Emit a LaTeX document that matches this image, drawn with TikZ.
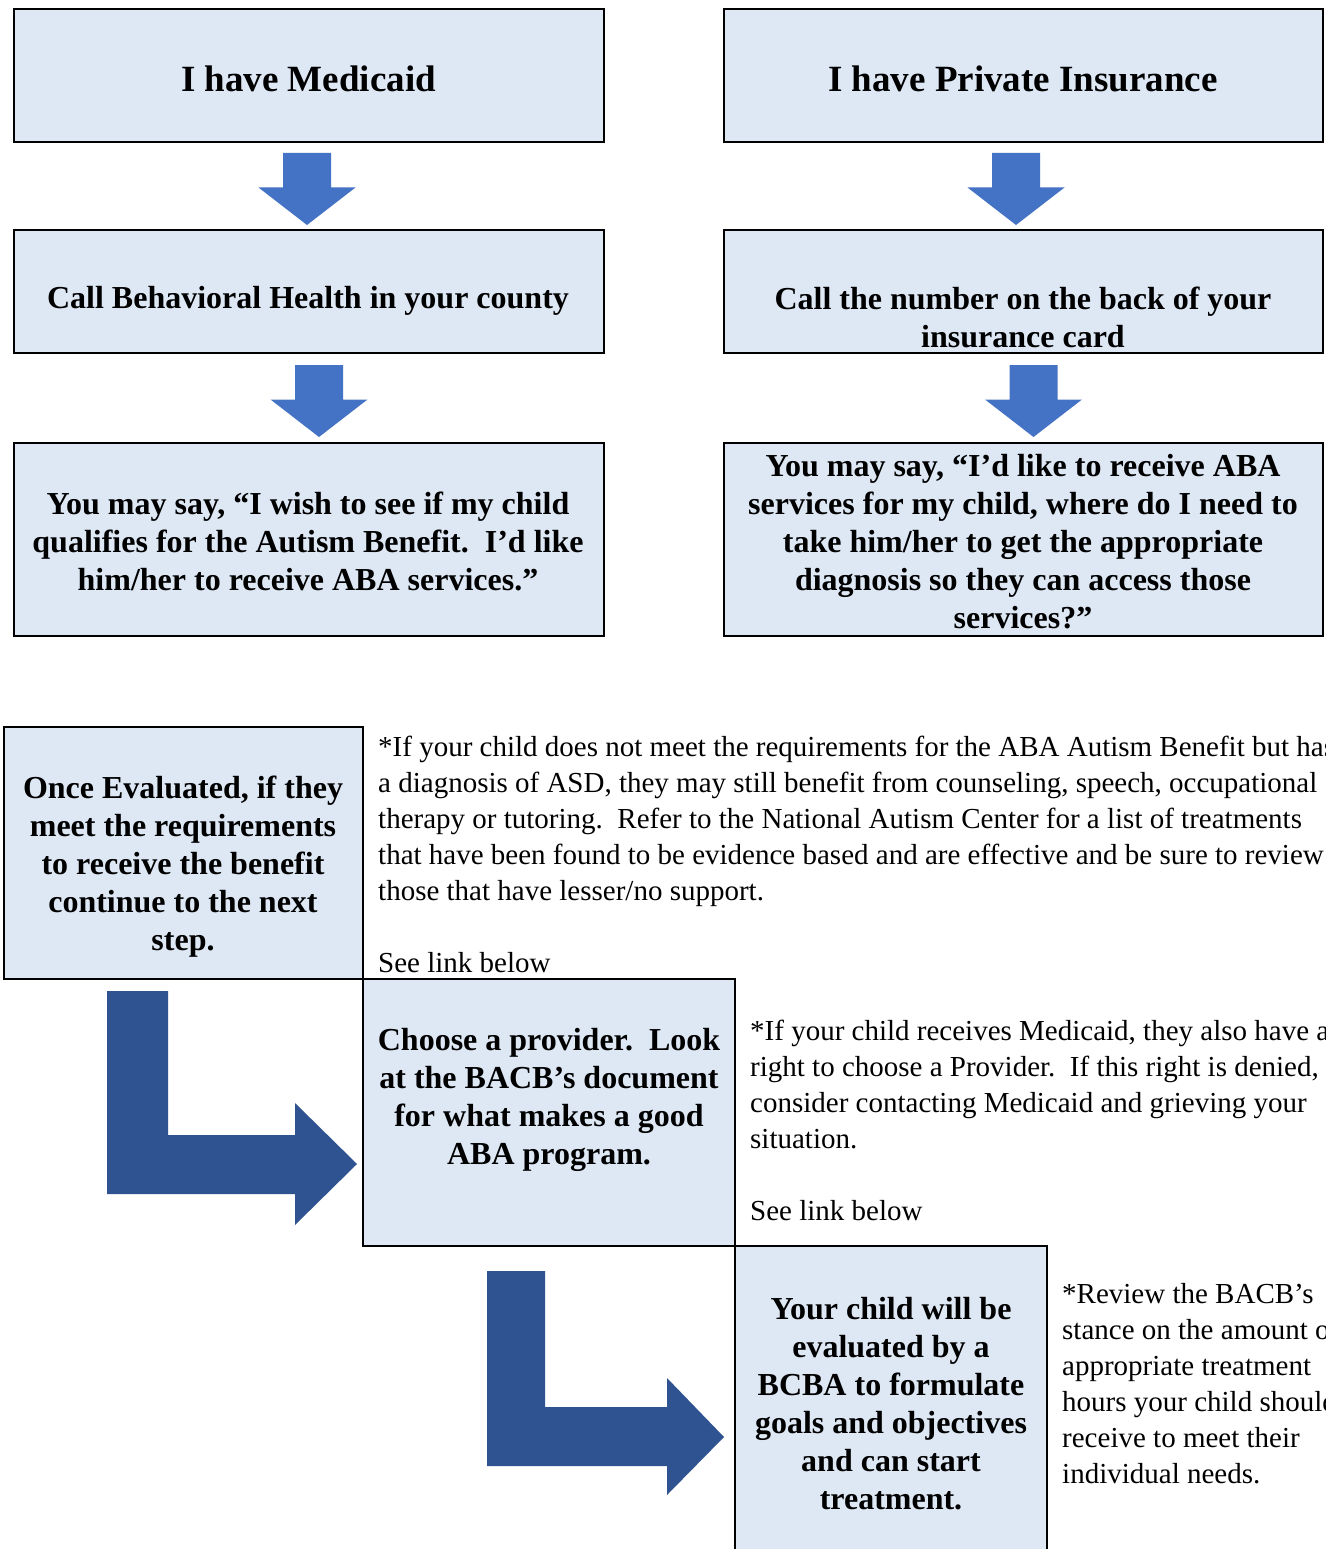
\documentclass[tikz,border=0pt]{standalone}
\usepackage{fontspec}
\setmainfont{Liberation Serif}
\definecolor{boxfill}{HTML}{DEE8F5}
\definecolor{arrowblue}{HTML}{4472C4}
\definecolor{darkarrow}{HTML}{2F5390}
\tikzset{
  box/.style={draw=black, line width=2.5pt, fill=boxfill, inner sep=0pt},
  boldtxt/.style={font=\fontsize{32}{38}\selectfont\bfseries, align=center, inner sep=0pt},
  titletxt/.style={font=\fontsize{37}{44}\selectfont\bfseries, inner sep=0pt},
  notetxt/.style={font=\fontsize{29}{36}\selectfont, align=left, inner sep=0pt, anchor=north west},
  darrow/.pic={\fill[arrowblue] (-24,0) -- (24,0) -- (24,34.5) -- (48.5,34.5) -- (0,72) -- (-48.5,34.5) -- (-24,34.5) -- cycle;}
}
\begin{document}
\begin{tikzpicture}[x=1pt,y=-1pt]
\useasboundingbox (0,0) rectangle (1325,1549);
\clip (0,0) rectangle (1325,1549);
\fill[white] (0,0) rectangle (1325,1549);

% top boxes
\node[box, minimum width=590pt, minimum height=133pt] (b1) at (309,75.5) {};
\node[box, minimum width=599pt, minimum height=133pt] (b2) at (1023.5,75.5) {};
\node[box, minimum width=590pt, minimum height=123pt] (b3) at (309,291.5) {};
\node[box, minimum width=599pt, minimum height=123pt] (b4) at (1023.5,291.5) {};
\node[box, minimum width=590pt, minimum height=193pt] (b5) at (309,539.5) {};
\node[box, minimum width=599pt, minimum height=193pt] (b6) at (1023.5,539.5) {};

\node[titletxt] (t1) at (308.5,79) {I have Medicaid};
\node[titletxt] (t2) at (1023,79) {I have Private Insurance};
\node[boldtxt] (t3) at (308,301) {Call Behavioral Health in your county};
\node[boldtxt] (t4) at (1023,317) {Call the number on the back of your\\insurance card};
\node[boldtxt] (t5) at (308,541) {You may say, “I wish to see if my child\\qualifies for the Autism Benefit.\ \ I’d like\\him/her to receive ABA services.”};
\node[boldtxt] (t6) at (1023,542) {You may say, “I’d like to receive ABA\\services for my child, where do I need to\\take him/her to get the appropriate\\diagnosis so they can access those\\services?”};

% down arrows
\pic at (307,153) {darrow};
\pic at (1016,153) {darrow};
\pic at (319,365) {darrow};
\pic at (1033.5,365) {darrow};

% bottom boxes
\node[box, minimum width=359pt, minimum height=252pt] (b7) at (183.5,853) {};
\node[box, minimum width=372pt, minimum height=267pt] (b8) at (549,1112.5) {};
\node[box, minimum width=312pt, minimum height=324pt] (b9) at (891,1408) {};

\node[boldtxt] (t7) at (183,867) {Once Evaluated, if they\\meet the requirements\\to receive the benefit\\continue to the next\\step.};
\node[boldtxt] (t8) at (549,1100) {Choose a provider.\ \ Look\\at the BACB’s document\\for what makes a good\\ABA program.};
\node[boldtxt] (t9) at (891,1404) {Your child will be\\evaluated by a\\BCBA to formulate\\goals and objectives\\and can start\\treatment.};

% notes
\node[notetxt] (n1) at (378,736) {*If your child does not meet the requirements for the ABA Autism Benefit but has\\a diagnosis of ASD, they may still benefit from counseling, speech, occupational\\therapy or tutoring.\ \ Refer to the National Autism Center for a list of treatments\\that have been found to be evidence based and are effective and be sure to review\\those that have lesser/no support.\\[36pt]See link below};
\node[notetxt] (n2) at (750,1020) {*If your child receives Medicaid, they also have a\\right to choose a Provider.\ \ If this right is denied,\\consider contacting Medicaid and grieving your\\situation.\\[36pt]See link below};
\node[notetxt] (n3) at (1062,1283) {*Review the BACB’s\\stance on the amount of\\appropriate treatment\\hours your child should\\receive to meet their\\individual needs.};

% L-shaped arrows
\fill[darkarrow] (107,991) -- (168,991) -- (168,1135) -- (295,1135) -- (295,1103) -- (357,1164) -- (295,1225) -- (295,1194) -- (107,1194) -- cycle;
\fill[darkarrow] (487,1271) -- (545,1271) -- (545,1407) -- (667,1407) -- (667,1378) -- (724,1437) -- (667,1495) -- (667,1466) -- (487,1466) -- cycle;
\end{tikzpicture}
\end{document}
